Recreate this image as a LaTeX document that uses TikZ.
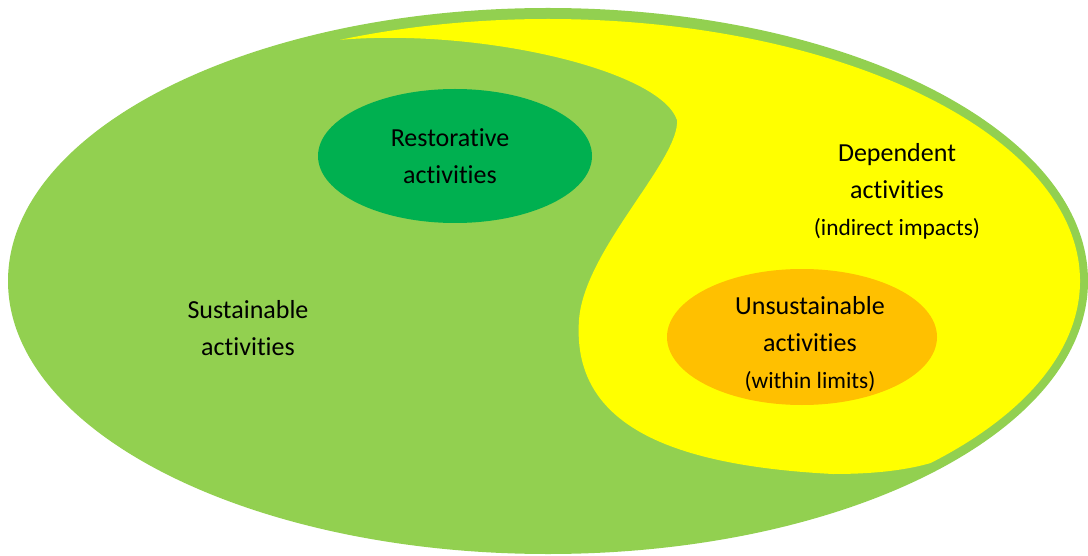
\documentclass[tikz,border=0pt]{standalone}
\usepackage{fontspec}
\setmainfont{Carlito}[Ligatures=NoCommon]
\definecolor{leafgreen}{HTML}{92D050}
\definecolor{deepgreen}{HTML}{00B050}
\definecolor{brightyellow}{HTML}{FFFF00}
\definecolor{amber}{HTML}{FFC000}
\tikzset{txt/.style={align=center, inner sep=0pt, font=\fontsize{14.8}{21}\selectfont}}
\newcommand{\subtxt}[1]{{\fontsize{13.3}{20}\selectfont #1}}

\begin{document}
\begin{tikzpicture}[x=0.02cm,y=0.02cm]
    \useasboundingbox (0,0) rectangle (1088,555);
    \fill[leafgreen] (548,274) ellipse (540 and 273);
    \fill[brightyellow] (548,274) ++(-44:532 and 262) coordinate (ycorner)
        arc[start angle=-44, end angle=113, x radius=532, y radius=262] coordinate (ytip)
        .. controls (480,527) and (660,485) .. (677,435)
        .. controls (680,395) and (584,305) .. (579,235)
        .. controls (572,135) and (660,90) .. (833,81)
        .. controls (880,81) and (910,86) .. (ycorner);
    \fill[deepgreen] (455,399) ellipse (137 and 67);
    \fill[amber] (802,218) ellipse (135 and 68);
    \node[txt] (sust) at (248,227) {Sustainable\\activities};
    \node[txt] (rest) at (450,399) {Restorative\\activities};
    \node[txt] (dep) at (897,364) {Dependent\\activities\\\subtxt{(indirect impacts)}};
    \node[txt] (unsust) at (810,211) {Unsustainable\\activities\\\subtxt{(within limits)}};
\end{tikzpicture}
\end{document}
